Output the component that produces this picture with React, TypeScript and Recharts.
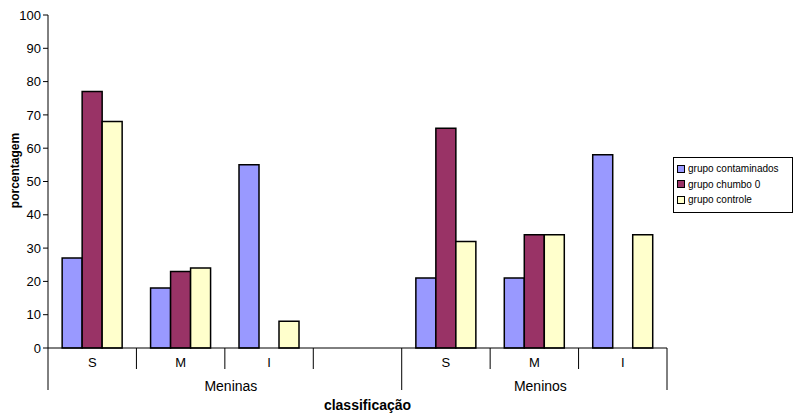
import { BarChart, Bar, XAxis, YAxis, Legend } from "recharts";

const categories = ["S", "M", "I", "", "S", "M", "I"];
const groups = [
  { label: "Meninas", start: 0, size: 4 },
  { label: "Meninos", start: 4, size: 3 },
];
const contaminados = [27, 18, 55, 0, 21, 21, 58];
const chumbo = [77, 23, 0, 0, 66, 34, 0];
const controle = [68, 24, 8, 0, 32, 34, 34];
const yTicks = [0, 10, 20, 30, 40, 50, 60, 70, 80, 90, 100];

const series = [
  { key: "contaminados", name: "grupo contaminados", color: "#9999FF" },
  { key: "chumbo", name: "grupo chumbo 0", color: "#993366" },
  { key: "controle", name: "grupo controle", color: "#FFFFCC" },
];

const data = categories.map((c, i) => ({
  id: "c" + i,
  cat: c,
  contaminados: contaminados[i],
  chumbo: chumbo[i],
  controle: controle[i],
}));

const FONT = "'Liberation Sans', Arial, sans-serif";

function CatTick(props: any) {
  const { x, y, payload, index } = props;
  const half = payload && payload.offset ? payload.offset : 44.2;
  const groupEnds = groups.map((g) => g.start + g.size - 1);
  const long = groupEnds.includes(index);
  const group = groups.find((g) => g.start === index);
  return (
    <g>
      {index === 0 && (
        <line x1={x - half} x2={x - half} y1={y} y2={y + 42} stroke="#000" />
      )}
      <line
        x1={x + half}
        x2={x + half}
        y1={y}
        y2={y + (long ? 42 : 21)}
        stroke="#000"
      />
      <text x={x} y={y + 19} textAnchor="middle" fontSize={13} fill="#000" fontFamily={FONT}>
        {categories[index]}
      </text>
      {group && (
        <text
          x={x - half + group.size * half + 6}
          y={y + 43}
          textAnchor="middle"
          fontSize={14}
          fill="#000"
          fontFamily={FONT}
        >
          {group.label}
        </text>
      )}
    </g>
  );
}

function LegendBox() {
  return (
    <div
      style={{
        border: "1px solid #000",
        background: "#fff",
        padding: "3px 4px 4px 3px",
        fontFamily: FONT,
        fontSize: 10,
        color: "#000",
      }}
    >
      {series.map((s) => (
        <div key={s.key} style={{ display: "flex", alignItems: "center", height: 15.5 }}>
          <span
            style={{
              width: 6,
              height: 6,
              border: "1px solid #000",
              background: s.color,
              marginRight: 3,
              display: "inline-block",
            }}
          />
          {s.name}
        </div>
      ))}
    </div>
  );
}

export default function App() {
  return (
    <div style={{ position: "absolute", left: 0, top: 0, width: 793, height: 417, background: "#fff" }}>
      <BarChart
        width={793}
        height={417}
        data={data}
        margin={{ top: 15, right: 126, bottom: 9, left: 0 }}
        barGap={0}
        barCategoryGap="16%"
      >
        <XAxis
          dataKey="id"
          height={60}
          axisLine={{ stroke: "#000" }}
          tickLine={false}
          tickSize={0}
          tickMargin={0}
          interval={0}
          tick={<CatTick />}
          label={{
            content: (p: any) => {
              const vb = p.viewBox || { x: 48, width: 619, y: 348 };
              return (
                <text
                  x={vb.x + vb.width / 2 + 10}
                  y={vb.y + 62}
                  textAnchor="middle"
                  fontSize={14}
                  fontWeight="bold"
                  fill="#000"
                  fontFamily={FONT}
                >
                  classificação
                </text>
              );
            },
          }}
        />
        <YAxis
          width={48}
          domain={[0, 100]}
          ticks={yTicks}
          interval={0}
          axisLine={{ stroke: "#000" }}
          tickLine={{ stroke: "#000" }}
          tickSize={5}
          tickMargin={2}
          tick={{ fontSize: 13, fill: "#000", fontFamily: FONT }}
          label={{
            content: (p: any) => {
              const vb = p.viewBox || { x: 0, y: 15, height: 333 };
              const cy = vb.y + vb.height / 2 - 11;
              return (
                <text
                  x={19}
                  y={cy}
                  transform={`rotate(-90, 19, ${cy})`}
                  textAnchor="middle"
                  fontSize={12}
                  fontWeight="bold"
                  fill="#000"
                  fontFamily={FONT}
                >
                  porcentagem
                </text>
              );
            },
          }}
        />
        <Legend
          layout="vertical"
          align="center"
          verticalAlign="middle"
          wrapperStyle={{ left: 673, top: 157, width: 120 }}
          content={() => <LegendBox />}
        />
        {series.map((s) => (
          <Bar
            key={s.key}
            dataKey={s.key}
            name={s.name}
            fill={s.color}
            stroke="#000"
            strokeWidth={1.5}
            isAnimationActive={false}
          />
        ))}
      </BarChart>
    </div>
  );
}
